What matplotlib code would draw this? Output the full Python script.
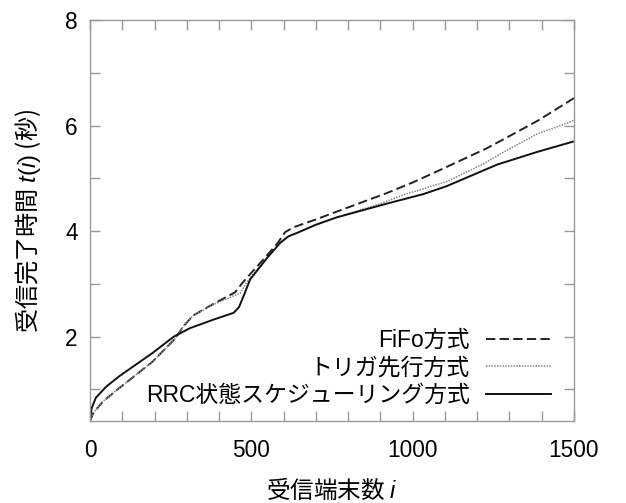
import matplotlib
matplotlib.use("Agg")
import matplotlib.pyplot as plt
from matplotlib.ticker import MultipleLocator, FixedLocator

plt.rcParams["font.family"] = ["Liberation Sans", "Noto Sans CJK JP", "DejaVu Sans"]
plt.rcParams["mathtext.fontset"] = "custom"
plt.rcParams["mathtext.it"] = "Liberation Sans:italic"
plt.rcParams["mathtext.rm"] = "Liberation Sans"

# values
fifo_x = [0, 10, 40, 90, 195, 265, 290, 320, 380, 450, 470, 490, 540, 580, 605, 630,
          700, 770, 920, 1000, 1100, 1230, 1300, 1390, 1500]
fifo_y = [0.40, 0.55, 0.77, 1.02, 1.53, 1.97, 2.20, 2.40, 2.61, 2.84, 3.00, 3.14, 3.48,
          3.76, 3.98, 4.07, 4.22, 4.38, 4.72, 4.92, 5.20, 5.57, 5.80, 6.10, 6.52]

trig_x = [0, 10, 40, 90, 195, 265, 290, 320, 380, 440, 465, 485, 500, 550, 590, 615,
          640, 700, 765, 900, 973, 1107, 1221, 1283, 1386, 1459, 1500]
trig_y = [0.40, 0.55, 0.77, 1.02, 1.53, 1.97, 2.20, 2.40, 2.60, 2.76, 2.82, 3.02, 3.14,
          3.50, 3.78, 3.90, 3.96, 4.12, 4.26, 4.52, 4.69, 4.94, 5.28, 5.50, 5.84,
          6.00, 6.10]

rrc_x = [0, 5, 18, 50, 91, 194, 260, 310, 382, 445, 462, 478, 496, 550, 590, 615,
         640, 700, 765, 920, 1033, 1105, 1262, 1386, 1500]
rrc_y = [0.42, 0.64, 0.84, 1.05, 1.25, 1.69, 2.00, 2.16, 2.32, 2.45, 2.56, 2.80,
         3.08, 3.50, 3.78, 3.90, 3.96, 4.12, 4.26, 4.52, 4.70, 4.85, 5.26, 5.50, 5.70]

labels = ["FiFo方式", "トリガ先行方式", "RRC状態スケジューリング方式"]
x_ticks = [0, 500, 1000, 1500]
y_ticks = [2, 4, 6, 8]

fig = plt.figure(figsize=(6.26, 5.03), dpi=100)
ax = fig.add_axes([90 / 626, 1 - 421 / 503, 484 / 626, 401 / 503])

ax.plot(fifo_x, fifo_y, color="#222222", lw=1.4, dashes=(4.8, 2.2), label=labels[0])
ax.plot(trig_x, trig_y, color="#888888", lw=1.1, linestyle=(0, (1, 0.8)), label=labels[1])
ax.plot(rrc_x, rrc_y, color="#111111", lw=1.4, label=labels[2])

ax.set_xlim(0, 1500)
ax.set_ylim(0.4, 8)
ax.xaxis.set_major_locator(FixedLocator(x_ticks))
ax.yaxis.set_major_locator(FixedLocator(y_ticks))
ax.xaxis.set_minor_locator(MultipleLocator(100))
ax.yaxis.set_minor_locator(MultipleLocator(1))
ax.tick_params(which="both", direction="in", top=True, right=True,
               length=7, width=1, color="#999999")
ax.tick_params(which="major", labelsize=16.3)
ax.tick_params(axis="x", which="major", pad=13)
ax.tick_params(axis="y", which="major", pad=9)
for s in ax.spines.values():
    s.set_color("#999999")
    s.set_linewidth(1)

ax.set_xlabel("受信端末数 $i$", fontsize=17, fontfamily="Noto Sans CJK JP")
ax.set_ylabel("受信完了時間 $t(i)$ (秒)", fontsize=17.4, fontfamily="Noto Sans CJK JP")
ax.xaxis.set_label_coords(0.5, -0.14)
ax.yaxis.set_label_coords(-0.098, 0.5)

# legend sits lower than the default padding would put it
ax.legend(loc="lower right", bbox_to_anchor=(0.972, 0.012), frameon=False,
          markerfirst=False, fontsize=16.5, handlelength=2.85, handletextpad=0.7,
          labelspacing=0.2, borderaxespad=0)

fig.savefig("out.png", dpi=100)
